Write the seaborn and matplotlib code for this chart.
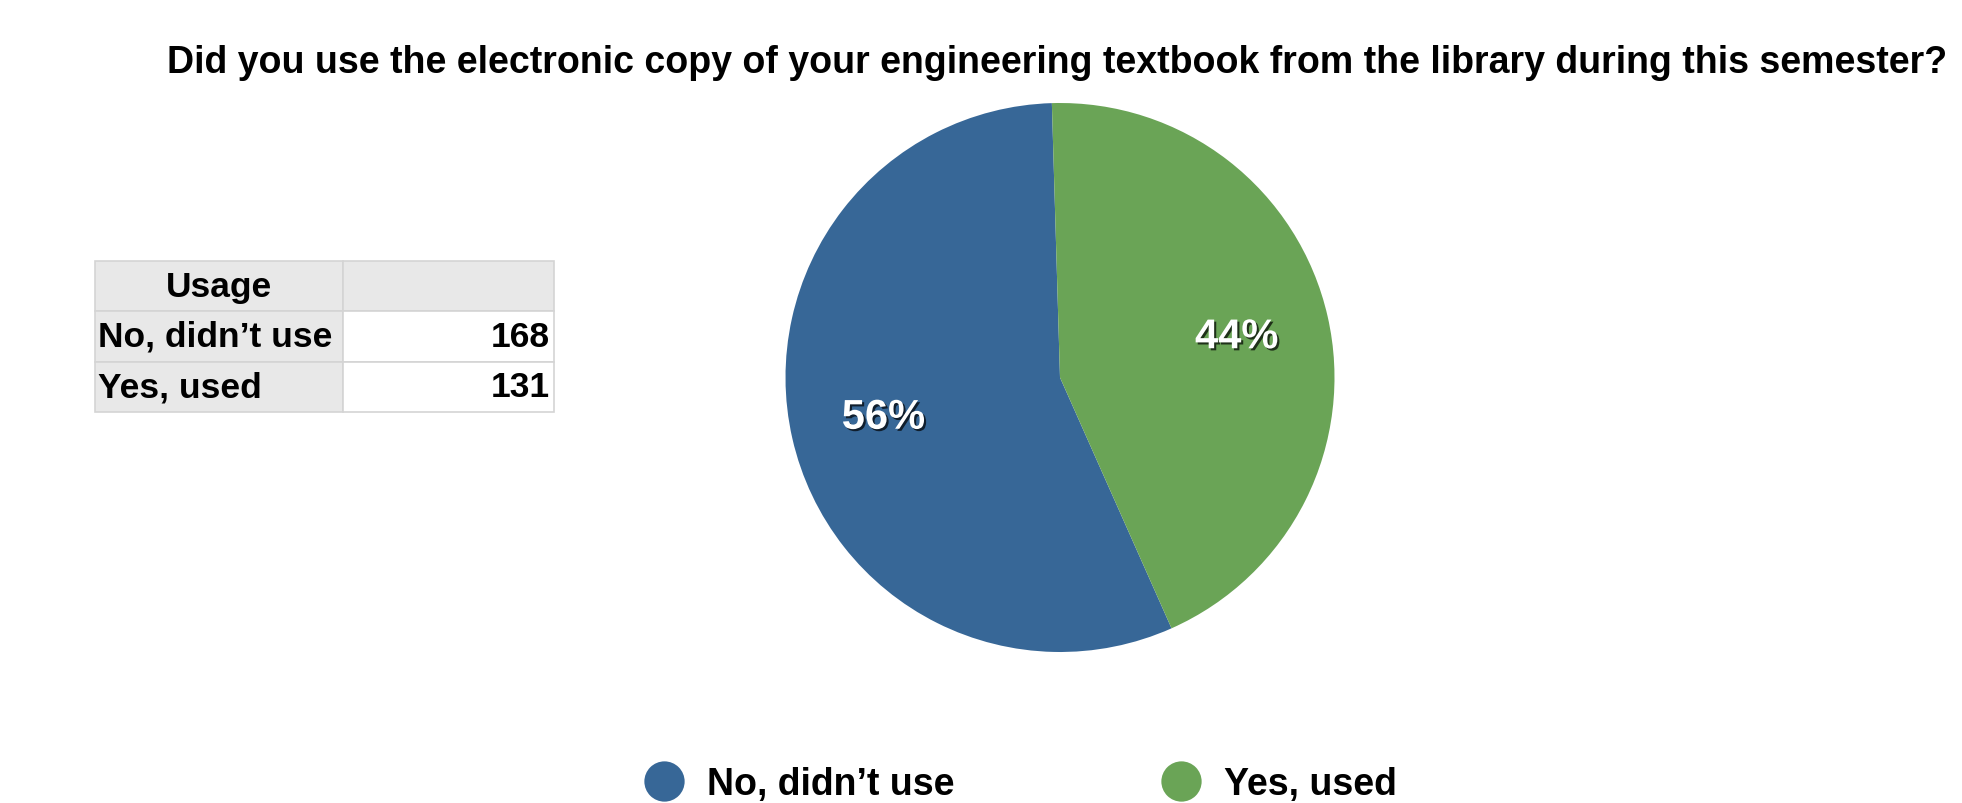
import matplotlib
matplotlib.use("Agg")
import matplotlib.pyplot as plt
import matplotlib.patheffects as pe
from matplotlib.lines import Line2D
import seaborn as sns

# ---- data ----
categories = ["No, didn\u2019t use", "Yes, used"]
counts = [168, 131]
colors = ["#376797", "#6aa456"]
table_header = ["Usage", ""]
title = "Did you use the electronic copy of your engineering textbook from the library during this semester?"

sns.set_theme(style="white")
plt.rcParams['font.family'] = ['Liberation Sans', 'DejaVu Sans']
plt.rcParams['text.color'] = 'black'

W, H = 1962, 804
fig = plt.figure(figsize=(W / 100, H / 100), dpi=100)
fig.patch.set_facecolor("white")

# title
fig.text(1057 / W, 1 - 63 / H, title, ha="center", va="center",
         fontsize=27, fontweight="bold", color="black")

# pie
cx, cy, r = 1060, 378.5, 274.5
ax = fig.add_axes([(cx - r) / W, 1 - (cy + r) / H, 2 * r / W, 2 * r / H])
wedges, texts, autotexts = ax.pie(
    counts, colors=colors, startangle=91.7, counterclock=True,
    autopct=lambda p: f"{p:.0f}%", pctdistance=0.66,
    wedgeprops=dict(linewidth=0),
    textprops=dict(color="white", fontsize=30, fontweight="bold"))
for t in autotexts:
    t.set_path_effects([pe.withSimplePatchShadow(offset=(1.5, -1.5), shadow_rgbFace="black", alpha=0.7)])
ax.set_xlim(-1, 1)
ax.set_ylim(-1, 1)
ax.axis("off")

# table
tx0, tx1, ty0, ty1 = 95, 554, 262, 413
tax = fig.add_axes([tx0 / W, 1 - ty1 / H, (tx1 - tx0) / W, (ty1 - ty0) / H])
tax.axis("off")
cell_text = [table_header] + [[c, str(v)] for c, v in zip(categories, counts)]
tbl = tax.table(cellText=cell_text, bbox=[0, 0, 1, 1], colWidths=[248, 211])
tbl.auto_set_font_size(False)
for (row, col), cell in tbl.get_celld().items():
    cell.set_edgecolor("#d4d4d4")
    cell.set_linewidth(1.2)
    txt = cell.get_text()
    txt.set_fontsize(25.5)
    txt.set_fontweight("bold")
    txt.set_color("black")
    if row == 0 or col == 0:
        cell.set_facecolor("#e8e8e8")
    else:
        cell.set_facecolor("white")
    if row == 0:
        cell._loc = "center"
        txt.set_ha("center")
    elif col == 0:
        cell._loc = "left"
        txt.set_ha("left")
        cell.PAD = 0.012
    else:
        cell._loc = "right"
        txt.set_ha("right")
        cell.PAD = 0.02

# legend
handles = [Line2D([0], [0], marker="o", linestyle="none", markersize=29,
                  markerfacecolor=c, markeredgewidth=0) for c in colors]
leg = fig.legend(handles, categories, loc="center", bbox_to_anchor=(1020 / W, 1 - 785 / H),
                 ncol=2, frameon=False, handlelength=1.1, handletextpad=0.6,
                 columnspacing=5.5, prop=dict(size=27, weight="bold"))
for t in leg.get_texts():
    t.set_color("black")

fig.savefig("out.png", dpi=100, facecolor="white")
